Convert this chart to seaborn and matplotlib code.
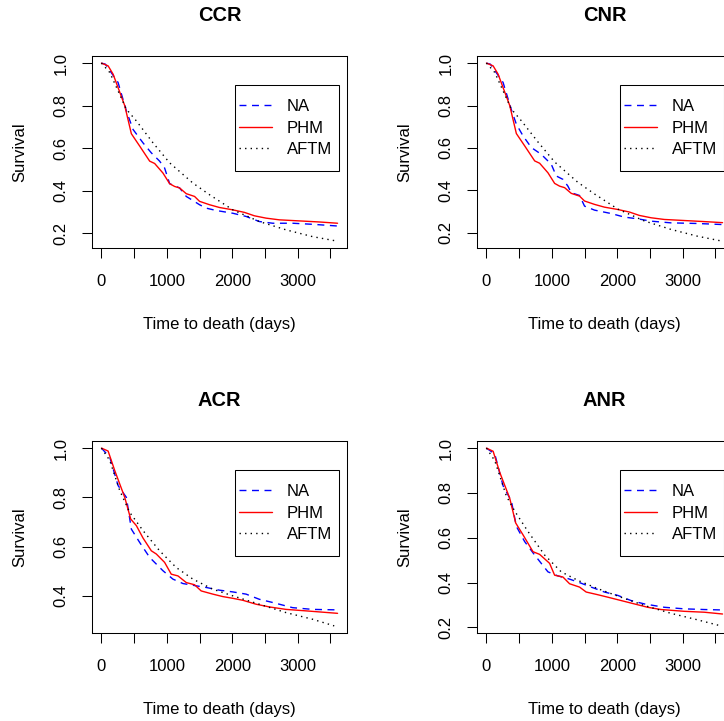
import numpy as np
import pandas as pd
import matplotlib
matplotlib.use("Agg")
import matplotlib.pyplot as plt
from matplotlib.patches import Rectangle
import seaborn as sns

# survival curves: time (days) and survival for each model

# CCR
ccr_na_t = [0, 60, 254, 381, 483, 635, 762, 889, 965, 1042, 1194, 1296, 1397, 1499, 1601, 1753, 2007, 2210, 2413, 2617, 2922, 3226, 3608]
ccr_na_s = [1.0, 0.995, 0.909, 0.775, 0.688, 0.625, 0.578, 0.539, 0.507, 0.433, 0.413, 0.373, 0.354, 0.334, 0.318, 0.307, 0.294, 0.279, 0.255, 0.247, 0.247, 0.242, 0.234]
ccr_phm_t = [0, 102, 178, 356, 457, 584, 737, 813, 940, 1042, 1118, 1194, 1296, 1423, 1499, 1652, 1804, 2007, 2185, 2337, 2515, 2718, 3023, 3328, 3608]
ccr_phm_s = [1.0, 0.987, 0.948, 0.80, 0.668, 0.61, 0.539, 0.528, 0.483, 0.433, 0.42, 0.413, 0.386, 0.373, 0.35, 0.334, 0.321, 0.31, 0.298, 0.282, 0.271, 0.263, 0.258, 0.253, 0.247]
ccr_aftm_t = [0, 127, 381, 534, 788, 1042, 1397, 1652, 2007, 2413, 2820, 3226, 3582]
ccr_aftm_s = [1.0, 0.956, 0.783, 0.728, 0.625, 0.531, 0.436, 0.381, 0.31, 0.255, 0.216, 0.184, 0.164]

# CNR
cnr_na_t = [0, 60, 254, 381, 457, 559, 686, 838, 991, 1067, 1169, 1245, 1296, 1423, 1499, 1652, 1905, 2109, 2312, 2515, 2820, 3226, 3608]
cnr_na_s = [1.0, 0.995, 0.909, 0.78, 0.712, 0.657, 0.602, 0.570, 0.523, 0.468, 0.452, 0.42, 0.389, 0.376, 0.326, 0.307, 0.291, 0.274, 0.266, 0.255, 0.247, 0.244, 0.239]
cnr_phm_t = [0, 102, 178, 356, 457, 584, 737, 813, 940, 1042, 1118, 1194, 1296, 1423, 1499, 1652, 1804, 2007, 2185, 2337, 2515, 2718, 3023, 3328, 3608]
cnr_phm_s = [1.0, 0.987, 0.948, 0.80, 0.668, 0.61, 0.539, 0.528, 0.483, 0.433, 0.42, 0.413, 0.386, 0.373, 0.35, 0.334, 0.321, 0.31, 0.298, 0.282, 0.271, 0.263, 0.258, 0.253, 0.248]
cnr_aftm_t = [0, 127, 381, 534, 788, 1042, 1397, 1652, 2007, 2413, 2820, 3226, 3582]
cnr_aftm_s = [1.0, 0.956, 0.783, 0.728, 0.628, 0.534, 0.438, 0.383, 0.312, 0.256, 0.216, 0.184, 0.162]

# ACR
acr_na_t = [0, 127, 254, 381, 457, 584, 737, 940, 1092, 1245, 1397, 1601, 1804, 2007, 2210, 2413, 2617, 2922, 3226, 3608]
acr_na_s = [1.0, 0.963, 0.848, 0.80, 0.671, 0.617, 0.556, 0.502, 0.468, 0.45, 0.443, 0.434, 0.423, 0.416, 0.407, 0.386, 0.373, 0.352, 0.345, 0.343]
acr_phm_t = [0, 102, 203, 356, 447, 534, 635, 762, 838, 965, 1067, 1169, 1296, 1423, 1524, 1702, 1855, 2007, 2160, 2363, 2566, 2820, 3125, 3608]
acr_phm_s = [1.0, 0.988, 0.909, 0.80, 0.712, 0.685, 0.635, 0.583, 0.570, 0.536, 0.488, 0.481, 0.454, 0.445, 0.42, 0.407, 0.397, 0.39, 0.382, 0.366, 0.355, 0.345, 0.339, 0.329]
acr_aftm_t = [0, 127, 279, 432, 635, 889, 1143, 1397, 1702, 2007, 2413, 2820, 3226, 3557]
acr_aftm_s = [1.0, 0.95, 0.828, 0.739, 0.665, 0.583, 0.515, 0.468, 0.427, 0.40, 0.366, 0.332, 0.305, 0.278]

# ANR
anr_na_t = [0, 127, 254, 381, 457, 584, 737, 940, 1092, 1245, 1397, 1601, 1804, 2007, 2210, 2413, 2718, 3023, 3328, 3608]
anr_na_s = [1.0, 0.974, 0.832, 0.764, 0.651, 0.583, 0.523, 0.448, 0.43, 0.418, 0.403, 0.38, 0.358, 0.343, 0.32, 0.305, 0.29, 0.283, 0.28, 0.278]
anr_phm_t = [0, 102, 203, 356, 447, 559, 711, 813, 965, 1042, 1169, 1270, 1423, 1524, 1702, 1855, 2058, 2261, 2464, 2668, 3023, 3328, 3608]
anr_phm_s = [1.0, 0.986, 0.892, 0.776, 0.666, 0.613, 0.538, 0.526, 0.486, 0.433, 0.425, 0.395, 0.38, 0.358, 0.346, 0.335, 0.32, 0.305, 0.29, 0.28, 0.272, 0.268, 0.26]
anr_aftm_t = [0, 127, 305, 432, 635, 889, 1143, 1397, 1702, 2007, 2413, 2820, 3226, 3582]
anr_aftm_s = [1.0, 0.944, 0.786, 0.719, 0.628, 0.523, 0.448, 0.41, 0.373, 0.34, 0.298, 0.263, 0.234, 0.207]

models = ["NA", "PHM", "AFTM"]
panels = [
    ("CCR", [(ccr_na_t, ccr_na_s), (ccr_phm_t, ccr_phm_s), (ccr_aftm_t, ccr_aftm_s)], [0.2, 0.4, 0.6, 0.8, 1.0]),
    ("CNR", [(cnr_na_t, cnr_na_s), (cnr_phm_t, cnr_phm_s), (cnr_aftm_t, cnr_aftm_s)], [0.2, 0.4, 0.6, 0.8, 1.0]),
    ("ACR", [(acr_na_t, acr_na_s), (acr_phm_t, acr_phm_s), (acr_aftm_t, acr_aftm_s)], [0.4, 0.6, 0.8, 1.0]),
    ("ANR", [(anr_na_t, anr_na_s), (anr_phm_t, anr_phm_s), (anr_aftm_t, anr_aftm_s)], [0.2, 0.4, 0.6, 0.8, 1.0]),
]

sns.set_style("white")
plt.rcParams["font.family"] = ["Liberation Sans", "DejaVu Sans"]
plt.rcParams["font.size"] = 12
plt.rcParams["text.color"] = "black"
plt.rcParams["axes.labelcolor"] = "black"
plt.rcParams["xtick.color"] = "black"
plt.rcParams["ytick.color"] = "black"

palette = {"NA": "blue", "PHM": "red", "AFTM": "black"}
dashes = {"NA": (5, 4), "PHM": "", "AFTM": (1, 3)}

W, H = 724, 721
fig = plt.figure(figsize=(W / 100, H / 100), dpi=100)
fig.patch.set_facecolor("white")

# axes boxes in pixels: left, top
boxes = [(92, 56), (477, 56), (92, 441), (477, 441)]
bw, bh = 255, 192
# legend box padding in pixels (left, right, top, bottom)
padl, padr, padt, padb = 4, 7, 14, 14

legends = []
for (title, series, yticks), (left, top) in zip(panels, boxes):
    ax = fig.add_axes([left / W, 1 - (top + bh) / H, bw / W, bh / H])
    rows = []
    for m, (t, s) in zip(models, series):
        for ti, si in zip(t, s):
            rows.append({"time": ti, "surv": si, "model": m})
    df = pd.DataFrame(rows)
    sns.lineplot(data=df, x="time", y="surv", hue="model", style="model",
                 hue_order=models, style_order=models, palette=palette,
                 dashes=dashes, estimator=None, sort=False, linewidth=1.0, ax=ax)

    # R-like axis range: 4% padding around the data
    xmax = df["time"].max()
    ymin, ymax = df["surv"].min(), df["surv"].max()
    span = ymax - ymin
    ax.set_xlim(-0.04 * xmax, xmax * 1.04)
    ax.set_ylim(ymin - 0.04 * span, ymax + 0.04 * span)

    ax.set_xticks([0, 500, 1000, 1500, 2000, 2500, 3000, 3500])
    ax.set_xticklabels(["0", "", "1000", "", "2000", "", "3000", ""])
    ax.set_yticks(yticks)
    ax.set_yticklabels([f"{v:.1f}" for v in yticks], rotation=90, va="center")
    ax.tick_params(axis="both", direction="out", length=7, width=0.75,
                   color="black", labelcolor="black", labelsize=12, pad=10,
                   bottom=True, left=True)
    ax.tick_params(axis="x", pad=12)

    for sp in ax.spines.values():
        sp.set_visible(True)
        sp.set_color("black")
        sp.set_linewidth(0.75)

    ax.set_xlabel("Time to death (days)", fontsize=12, labelpad=20, color="black")
    ax.set_ylabel("Survival", fontsize=12, labelpad=19, color="black")
    ax.set_title(title, fontsize=14.4, fontweight="bold", pad=25, color="black")

    handles, labels = ax.get_legend_handles_labels()
    leg = ax.legend(handles, labels, loc="upper right",
                    bbox_to_anchor=(0.969 - padr / bw, 0.849 - padt / bh),
                    frameon=False, fontsize=12, handlelength=2.0, handletextpad=0.9,
                    labelspacing=0.4, borderpad=0, borderaxespad=0)
    leg.set_zorder(6)
    for txt in leg.get_texts():
        txt.set_color("black")
    legends.append((ax, leg))

# draw a frame round each legend, padded like R's legend box
fig.canvas.draw()
for ax, leg in legends:
    bb = leg.get_window_extent()
    (x0, y0) = ax.transAxes.inverted().transform((bb.x0 - padl, bb.y0 - padb))
    (x1, y1) = ax.transAxes.inverted().transform((bb.x1 + padr, bb.y1 + padt))
    ax.add_patch(Rectangle((x0, y0), x1 - x0, y1 - y0, transform=ax.transAxes,
                           facecolor="white", edgecolor="black", linewidth=0.75,
                           zorder=5, clip_on=False))

fig.savefig("out.png", dpi=100, facecolor="white")
